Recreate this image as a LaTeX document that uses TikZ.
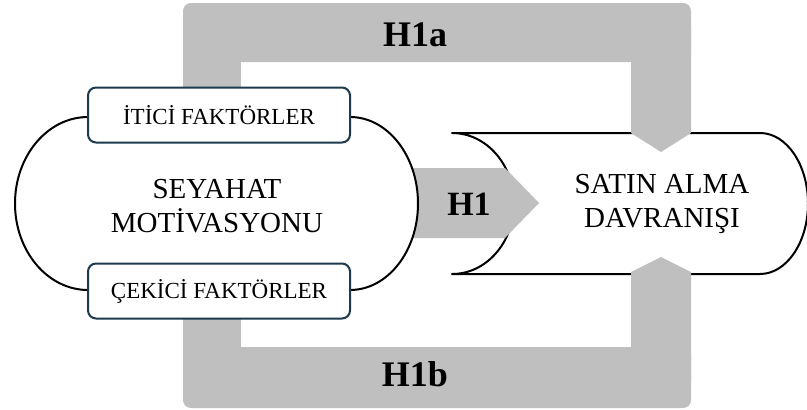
\documentclass[tikz,border=0pt]{standalone}
\usepackage{fontspec}
\setmainfont{Liberation Serif}
\usepackage{tikz}
\usetikzlibrary{positioning}
\usepackage{xcolor}
\definecolor{bargray}{HTML}{BFBFBF}
\definecolor{boxnavy}{HTML}{1C3A4C}

\begin{document}
\begin{tikzpicture}[x=1pt,y=-1pt,line join=round,
  hlabel/.style={font=\fontsize{36}{36}\selectfont\bfseries},
  bigtext/.style={align=center,font=\fontsize{29}{34}\selectfont},
  factor/.style={draw=boxnavy,line width=2pt,rounded corners=8pt,fill=white,
    minimum width=262pt,minimum height=55pt,inner sep=0pt,
    font=\fontsize{23}{23}\selectfont}]
\useasboundingbox (0,0) rectangle (807,410);
% purchase behaviour shape
\draw[line width=2pt,fill=white](452,133)--(760,133)
  arc[start angle=-90,end angle=90,x radius=48,y radius=70.5]--(452,274)
  arc[start angle=90,end angle=-90,x radius=62,y radius=70.5]--cycle;
% H1a bracket
\fill[bargray,rounded corners=8pt](183,3) rectangle (691,62);
\fill[bargray](183,30) rectangle (241,110);
\fill[bargray](631,30)--(691,30)--(691,133)--(661,152)--(631,133)--cycle;
% H1b bracket
\fill[bargray,rounded corners=8pt](183,347) rectangle (691,408);
\fill[bargray](183,300) rectangle (241,380);
\fill[bargray](631,380)--(631,272)--(661,257)--(691,272)--(691,380)--cycle;
% H1 arrow
\fill[bargray](400,168)--(505,168)--(539,203)--(505,238)--(400,238)--cycle;
% travel motivation shape
\draw[line width=2pt,fill=white](88,117)--(350,117)
  arc[start angle=-90,end angle=90,x radius=68,y radius=86.5]--(88,290)
  arc[start angle=90,end angle=270,x radius=73,y radius=86.5]--cycle;
\foreach \name/\y/\txt in {itici/115/İTİCİ FAKTÖRLER,cekici/291/ÇEKİCİ FAKTÖRLER}
  \node[factor] (\name) at (219,\y) {\txt};
\node[bigtext] (seyahat) at (217,206) {SEYAHAT\\MOTİVASYONU};
\node[bigtext] (satin) at (662,204) {SATIN ALMA\\DAVRANIŞI};
\node[hlabel] (hia) at (415,35) {H1a};
\node[hlabel] (hib) at (415,374) {H1b};
\node[hlabel,font=\fontsize{34}{34}\selectfont\bfseries] (hi) at (469,204) {H1};
\end{tikzpicture}
\end{document}
